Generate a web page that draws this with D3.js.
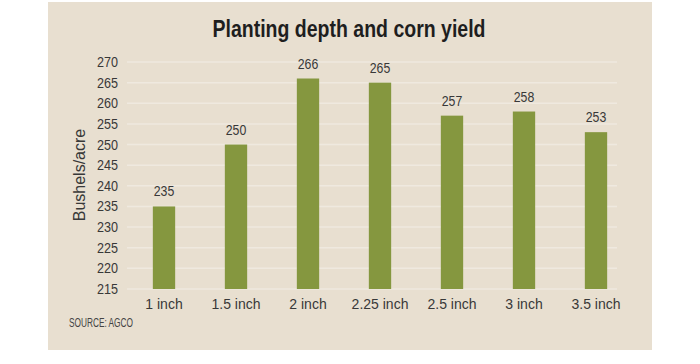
<!DOCTYPE html>
<html><head><meta charset="utf-8">
<script src="https://cdn.jsdelivr.net/npm/d3@7"></script>
<style>body{margin:0;background:#fff}svg{display:block}</style>
</head><body>
<svg id="c" width="700" height="364"></svg>
<script>
const categories = ["1 inch","1.5 inch","2 inch","2.25 inch","2.5 inch","3 inch","3.5 inch"];
const values = [235,250,266,265,257,258,253];
const yTicks = [215,220,225,230,235,240,245,250,255,260,265,270];

const svg = d3.select("#c");
const font = "'Liberation Sans',Arial,sans-serif";
svg.append("rect").attr("x",48).attr("y",2).attr("width",604).attr("height",348).attr("fill","#e8dfd0");

const y = d3.scaleLinear().domain([215,270]).range([289,62]);
const x = d3.scaleBand().domain(categories).range([128,632]).paddingInner(0.69).paddingOuter(0.345);

svg.append("g").selectAll("line").data(yTicks).join("line")
  .attr("x1",127).attr("x2",617).attr("y1",d=>y(d)).attr("y2",d=>y(d))
  .attr("stroke","#efe9df").attr("stroke-width",1.5);

const yAxis = svg.append("g").attr("transform","translate(118,0)")
  .call(d3.axisLeft(y).tickValues(yTicks).tickSize(0).tickPadding(0));
yAxis.select(".domain").remove();
yAxis.selectAll("text").attr("font-family",font).attr("font-size",14).attr("fill","#383838")
  .attr("transform","scale(0.9,1)");

svg.append("g").selectAll("g").data(values).join("g")
  .attr("transform",(d,i)=>`translate(${x(categories[i])+x.bandwidth()/2},${y(d)-10})`)
  .append("text").attr("transform","scale(0.88,1)")
  .attr("text-anchor","middle").attr("font-family",font).attr("font-size",14).attr("fill","#383838")
  .text(d=>d);

svg.append("g").selectAll("rect").data(values).join("rect")
  .attr("x",(d,i)=>x(categories[i])).attr("width",x.bandwidth())
  .attr("y",d=>y(d)).attr("height",d=>y(215)-y(d)).attr("fill","#85973f");

const xAxis = svg.append("g").attr("transform","translate(0,289)")
  .call(d3.axisBottom(x).tickSize(0).tickPadding(10));
xAxis.select(".domain").remove();
xAxis.selectAll("text").attr("font-family",font).attr("font-size",14).attr("fill","#383838");

svg.append("text").attr("transform","translate(85,175) rotate(-90)").attr("text-anchor","middle")
  .attr("font-family",font).attr("font-size",16).attr("fill","#383838").text("Bushels/acre");

svg.append("text").attr("x",349).attr("y",37).attr("text-anchor","middle")
  .attr("textLength",273).attr("lengthAdjust","spacingAndGlyphs")
  .attr("font-family",font).attr("font-weight","bold").attr("font-size",23).attr("fill","#1e1e1e")
  .text("Planting depth and corn yield");

svg.append("text").attr("x",69).attr("y",327).attr("textLength",64).attr("lengthAdjust","spacingAndGlyphs")
  .attr("font-family",font).attr("font-size",12).attr("fill","#444").text("SOURCE: AGCO");
</script>
</body></html>
